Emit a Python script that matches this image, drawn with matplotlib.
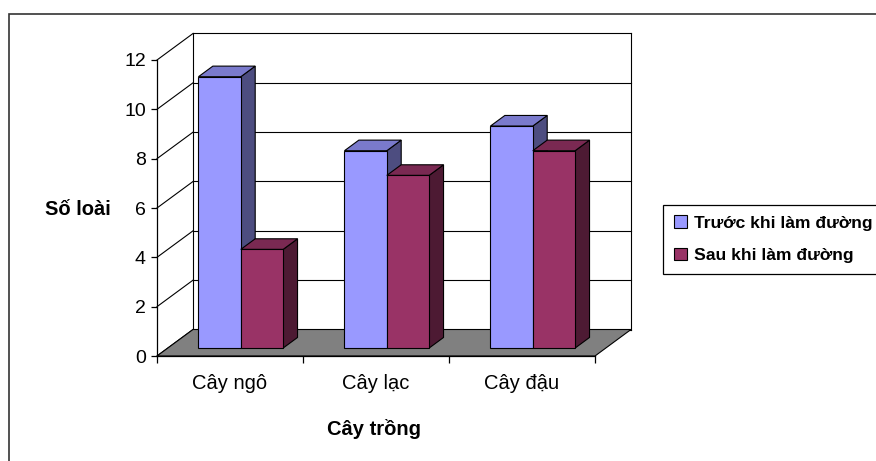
import matplotlib.pyplot as plt
from matplotlib.patches import Polygon, Rectangle, Patch

plt.rcParams['font.family'] = ['Liberation Sans', 'DejaVu Sans']

categories = ["Cây ngô", "Cây lạc", "Cây đậu"]
series_names = ["Trước khi làm đường", "Sau khi làm đường"]
before = [11, 8, 9]
after = [4, 7, 8]
yticks = [0, 2, 4, 6, 8, 10, 12]

# face colours: front, side, top
blue = ("#9999ff", "#4d4d80", "#7a7acc")
red = ("#993366", "#4d1a33", "#7a2952")

W, H = 876, 461
fig = plt.figure(figsize=(W / 100, H / 100), dpi=100)
ax = fig.add_axes([157 / W, 1 - 356 / H, 438 / W, 296 / H])
ax.set_xlim(0, 3)
ax.set_ylim(0, 12)
ax.patch.set_visible(False)
for s in ("top", "right"):
    ax.spines[s].set_visible(False)
ax.spines["left"].set_linewidth(0.9)
ax.spines["bottom"].set_linewidth(0.9)

# oblique depth offset in data units
DX = 36 / 146.0
DY = 26.5 / (296 / 12.0)

# walls: gridlines on side wall and back wall
for v in yticks:
    ax.plot([0, DX], [v, v + DY], color="black", lw=0.8, clip_on=False, zorder=1)
    ax.plot([DX, 3 + DX], [v + DY, v + DY], color="black", lw=0.8, clip_on=False, zorder=1)
ax.plot([DX, DX], [DY, 12 + DY], color="black", lw=0.8, clip_on=False, zorder=1)
ax.plot([3 + DX, 3 + DX], [DY, 12 + DY], color="black", lw=0.8, clip_on=False, zorder=1)

# floor
floor = Polygon([(0, 0), (3, 0), (3 + DX, DY), (DX, DY)], closed=True,
                facecolor="#808080", edgecolor="black", lw=0.8, clip_on=False, zorder=2)
ax.add_patch(floor)

w = 0.29
f0, f1 = 0.3, 0.7
ddx, ddy = (f1 - f0) * DX, (f1 - f0) * DY


def bar3d(x0, v, cols, z):
    yb = f0 * DY
    yt = v + f0 * DY
    x0 = x0 + f0 * DX
    front = [(x0, yb), (x0 + w, yb), (x0 + w, yt), (x0, yt)]
    side = [(x0 + w, yb), (x0 + w + ddx, yb + ddy), (x0 + w + ddx, yt + ddy), (x0 + w, yt)]
    top = [(x0, yt), (x0 + w, yt), (x0 + w + ddx, yt + ddy), (x0 + ddx, yt + ddy)]
    for pts, c in ((side, cols[1]), (top, cols[2]), (front, cols[0])):
        ax.add_patch(Polygon(pts, closed=True, facecolor=c, edgecolor="black",
                             lw=0.8, clip_on=False, zorder=z))


for i in range(len(categories)):
    bar3d(i + 0.5 - w, before[i], blue, 3 + i * 2)
    bar3d(i + 0.5, after[i], red, 4 + i * 2)

ax.set_yticks(yticks)
ax.set_yticklabels([str(t) for t in yticks])
ax.set_xticks([0, 1, 2, 3])
ax.set_xticklabels([])
ax.set_xticks([0.5, 1.5, 2.5], minor=True)
ax.set_xticklabels(categories, minor=True)
ax.tick_params(axis="y", direction="out", length=4, width=0.9, pad=4, labelsize=14)
ax.tick_params(axis="x", which="major", direction="out", length=5, width=0.9)
ax.tick_params(axis="x", which="minor", length=0, pad=13, labelsize=14.5)

fig.text(78 / W, 1 - 215 / H, "Số loài", ha="center", va="baseline",
         fontsize=14.5, fontweight="bold")
fig.text(374 / W, 1 - 435 / H, "Cây trồng", ha="center", va="baseline",
         fontsize=14.5, fontweight="bold")

# outer chart border
fig.patches.append(Rectangle((9 / W, -0.1), 1.2, 1.1 - 14 / H, transform=fig.transFigure,
                             fill=False, edgecolor="#333333", lw=1.2))

handles = [Patch(facecolor=blue[0], edgecolor="black", lw=0.8),
           Patch(facecolor=red[0], edgecolor="black", lw=0.8)]
leg = fig.legend(handles, series_names, loc="upper left",
                 bbox_to_anchor=(663 / W, 1 - 205 / H), bbox_transform=fig.transFigure,
                 borderaxespad=0, fancybox=False, framealpha=1, edgecolor="black",
                 prop={"weight": "bold", "size": 12.6}, handlelength=0.75, handleheight=0.75,
                 handletextpad=0.4, labelspacing=0.95, borderpad=0.6)
leg.get_frame().set_linewidth(0.9)

fig.savefig("out.png", dpi=100)
